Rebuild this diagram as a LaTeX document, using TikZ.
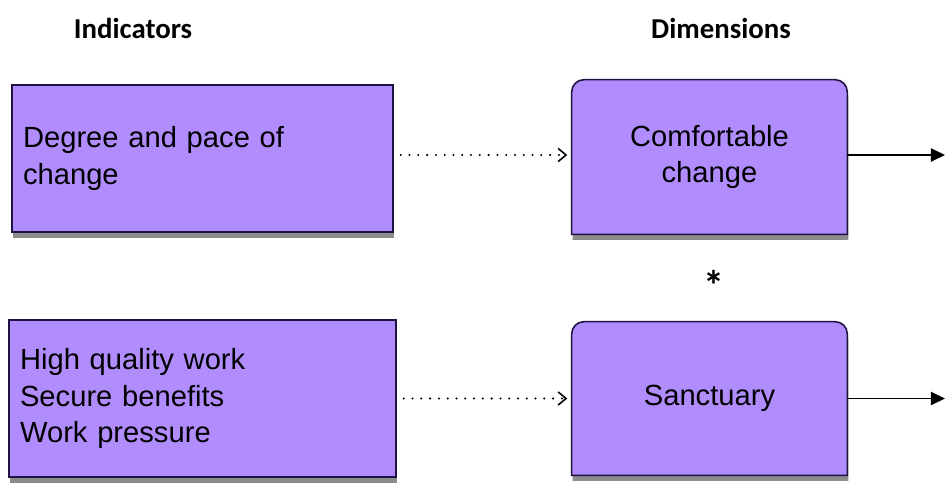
\documentclass[tikz,border=0pt]{standalone}
\usepackage{fontspec}
\setmainfont{Liberation Sans}
\newfontfamily\headfont{Carlito}
\usetikzlibrary{arrows.meta,shadows,backgrounds}
\definecolor{boxfill}{RGB}{176,140,252}
\definecolor{boxline}{RGB}{30,18,66}
\begin{document}
\begin{tikzpicture}[x=0.02cm,y=-0.02cm,
  head/.style={font=\headfont\bfseries\fontsize{16.4}{20}\selectfont},
  boxshadow/.style={drop shadow={shadow xshift=0.6pt,shadow yshift=-3.2pt,fill=black,opacity=0.45}},
  indbox/.style={draw=boxline,line width=0.9pt,fill=boxfill,boxshadow,align=left,inner xsep=0.22cm,font=\fontsize{16.6}{20.6}\selectfont},
  dimbox/.style={minimum width=5.5cm,align=center,font=\fontsize{16.6}{20.2}\selectfont},
  dimshape/.style={draw=boxline,line width=0.9pt,fill=boxfill,boxshadow},
  dotarrow/.style={line width=1.3pt,dash pattern=on 0pt off 5pt,line cap=round,-{Straight Barb[length=4.5pt,width=7.5pt,line width=0.9pt,line cap=butt]},shorten <=4pt,shorten >=2.5pt},
  outarrow/.style={line width=0.8pt,-{Triangle[length=8pt,width=7.5pt]}}]
\useasboundingbox (0,0) rectangle (947,493);
\node[head] (indh) at (133,28) {Indicators};
\node[head] (dimh) at (721,28) {Dimensions};
\node[indbox,text width=7.18cm,minimum height=2.94cm] (deg) at (202.5,158.5) {Degree and pace of\\change};
\node[indbox,text width=7.3cm,minimum height=3.14cm] (qual) at (202.5,398.5) {High quality work\\Secure benefits\\Work pressure};
\node[dimbox,minimum height=3.08cm] (comf) at (709.5,157) {Comfortable\\change};
\node[dimbox,minimum height=3.06cm] (sanc) at (709.5,398.5) {Sanctuary};
\begin{scope}[on background layer]
\foreach \n in {comf,sanc}
  \path[dimshape] (\n.south west) -- ([yshift=-7pt]\n.north west) arc[start angle=180,end angle=90,radius=7pt] -- ([xshift=-7pt]\n.north east) arc[start angle=90,end angle=0,radius=7pt] -- (\n.south east) -- cycle;
\end{scope}
\node[head,font=\headfont\bfseries\fontsize{24}{24}\selectfont] (star) at (714,285) {*};
\coordinate (out1) at (945,155);
\coordinate (out2) at (945,398.5);
\draw[dotarrow] (deg.east |- out1) -- (comf.west |- out1);
\draw[dotarrow] (qual.east |- sanc.west) -- (sanc.west);
\draw[outarrow] (comf.east |- out1) -- (out1);
\draw[outarrow] (sanc.east) -- (out2);
\end{tikzpicture}
\end{document}
